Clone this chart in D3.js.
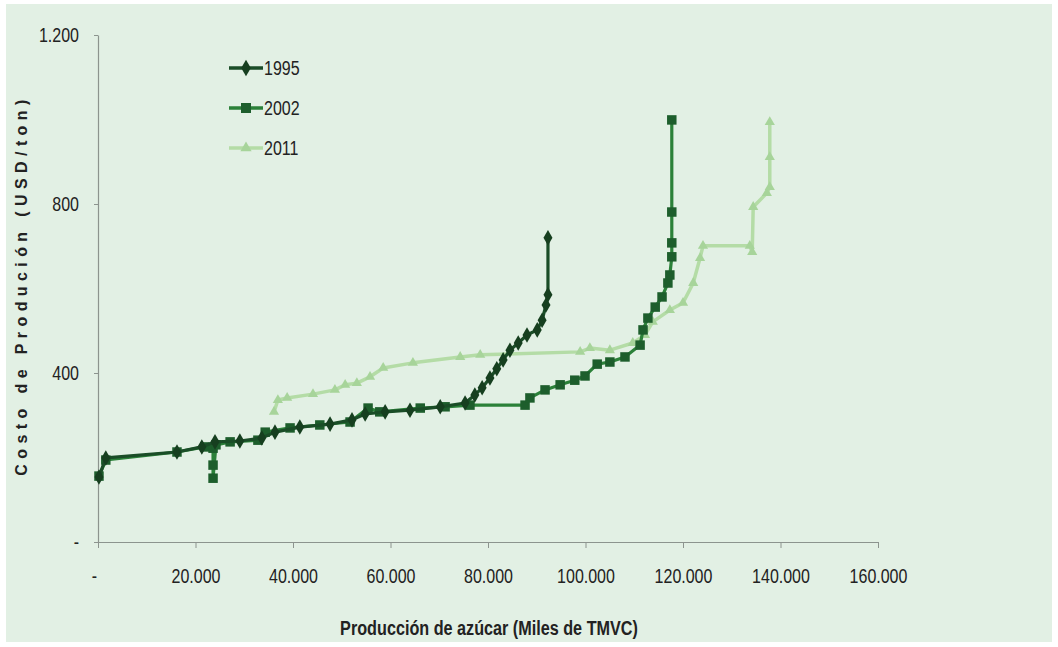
<!DOCTYPE html>
<html>
<head>
<meta charset="utf-8">
<script src="https://cdn.jsdelivr.net/npm/d3@7"></script>
<style>
  html, body { margin: 0; padding: 0; background: #ffffff; }
  svg { display: block; }
  text { font-family: "Liberation Sans Narrow", "Arial Narrow", "Liberation Sans", Arial, sans-serif; }
</style>
</head>
<body>
<svg id="chart" width="1058" height="647"></svg>
<script>
// Curva de oferta: producción acumulada (miles de TMVC) vs. costo de producción (USD/ton)
const xTicks = [0, 20000, 40000, 60000, 80000, 100000, 120000, 140000, 160000];
const yTicks = [0, 400, 800, 1200];
const seriesNames = ["1995", "2002", "2011"];

const prod1995 = [200, 1600, 16200, 21300, 24000, 29100, 33600, 36300, 41400, 47600, 52100, 54800, 58900, 64000, 70200, 75300, 77300, 78800, 80400, 81800, 83100, 84500, 86200, 88000, 90100, 91100, 91900, 92300, 92300];
const cost1995 = [154, 199, 213, 225, 237, 239, 246, 260, 272, 279, 289, 303, 308, 312, 320, 329, 348, 365, 388, 410, 431, 454, 471, 490, 502, 525, 561, 585, 720];

const prod2002 = [200, 1600, 16200, 21900, 23600, 23600, 23600, 24200, 27100, 32800, 34300, 39400, 45500, 51700, 55400, 57800, 66100, 71200, 76300, 87600, 88600, 91700, 94800, 97800, 99900, 102400, 105000, 108100, 111200, 111800, 112800, 114300, 115700, 116900, 117300, 117700, 117700, 117700, 117700];
const cost2002 = [156, 194, 213, 225, 222, 182, 151, 230, 237, 241, 260, 270, 277, 284, 317, 308, 317, 320, 324, 324, 341, 360, 372, 383, 393, 421, 426, 438, 466, 502, 530, 556, 580, 613, 632, 675, 708, 781, 999];

const prod2011 = [36100, 36900, 38800, 44100, 48600, 50700, 53100, 55800, 58500, 64600, 74300, 78400, 98900, 100900, 105000, 109700, 112200, 113800, 117300, 120000, 122100, 123500, 124100, 133700, 134200, 134400, 137200, 137800, 137800, 137800];
const cost2011 = [308, 336, 341, 350, 360, 372, 376, 391, 412, 424, 438, 443, 450, 459, 454, 471, 490, 521, 549, 566, 613, 672, 701, 701, 686, 793, 826, 840, 911, 994];

const lineColors = ["#1a4d27", "#2b8139", "#b4dca6"];
const markerColors = ["#163f1f", "#1d5e2c", "#a7d49a"];
const markerTypes = [d3.symbolDiamond, d3.symbolSquare, d3.symbolTriangle];
const markerSizes = [70, 90, 45];
const NARROW = 0.8; // compresión horizontal del texto condensado

const svg = d3.select("#chart");

// fondo
svg.append("rect").attr("x", 0).attr("y", 0).attr("width", 1058).attr("height", 647).attr("fill", "#ffffff");
svg.append("rect").attr("x", 6).attr("y", 4).attr("width", 1046).attr("height", 638).attr("fill", "#e2f0e4");

const x = d3.scaleLinear().domain([0, 160000]).range([98, 878]);
const y = d3.scaleLinear().domain([0, 1200]).range([542, 35]);

const fmtNum = d => d === 0 ? "-" : d3.format(",")(d).replace(/,/g, ".");

// texto condensado: escala horizontal alrededor del punto de anclaje
function condense(sel, s) {
  sel.each(function () {
    const t = d3.select(this);
    const tx = +t.attr("x") || 0, ty = +t.attr("y") || 0;
    t.attr("x", 0).attr("y", 0).attr("transform", `translate(${tx},${ty}) scale(${s},1)`);
  });
}

const xAxis = svg.append("g")
  .attr("transform", `translate(0,${y(0)})`)
  .call(d3.axisBottom(x).tickValues(xTicks).tickFormat(fmtNum).tickSize(6).tickPadding(21).tickSizeOuter(0));
const yAxis = svg.append("g")
  .attr("transform", `translate(${x(0)},0)`)
  .call(d3.axisLeft(y).tickValues(yTicks).tickFormat(fmtNum).tickSize(4).tickPadding(15).tickSizeOuter(0));

[xAxis, yAxis].forEach(g => {
  g.attr("font-family", null);
  g.select(".domain").attr("stroke", "#8c948e").attr("stroke-width", 1.2);
  g.selectAll(".tick line").attr("stroke", "#8c948e").attr("stroke-width", 1);
  g.selectAll(".tick text")
    .attr("font-size", 20)
    .attr("fill", "#222")
    .call(condense, NARROW);
});
xAxis.selectAll(".tick text").filter(d => d === 0).attr("transform", "translate(-4,27) scale(0.8,1)");

// series
const data = [
  prod1995.map((p, i) => ({ p, c: cost1995[i] })),
  prod2002.map((p, i) => ({ p, c: cost2002[i] })),
  prod2011.map((p, i) => ({ p, c: cost2011[i] }))
];
const line = d3.line().x(d => x(d.p)).y(d => y(d.c));
const drawOrder = [2, 1, 0];
drawOrder.forEach(k => {
  const g = svg.append("g");
  g.append("path")
    .datum(data[k])
    .attr("fill", "none")
    .attr("stroke", lineColors[k])
    .attr("stroke-width", k === 2 ? 3.5 : 3.2)
    .attr("stroke-linejoin", "round")
    .attr("d", line);
  g.selectAll("path.m")
    .data(data[k])
    .join("path")
    .attr("class", "m")
    .attr("transform", d => `translate(${x(d.p)},${y(d.c)})`)
    .attr("d", d3.symbol().type(markerTypes[k]).size(markerSizes[k]))
    .attr("fill", markerColors[k]);
});

// leyenda
const legend = svg.append("g");
seriesNames.forEach((name, k) => {
  const ly = 68 + k * 40;
  legend.append("line")
    .attr("x1", 229).attr("x2", 263).attr("y1", ly).attr("y2", ly)
    .attr("stroke", lineColors[k]).attr("stroke-width", 3.5);
  legend.append("path")
    .attr("transform", `translate(246,${ly})`)
    .attr("d", d3.symbol().type(markerTypes[k]).size(markerSizes[k] + 10))
    .attr("fill", markerColors[k]);
  legend.append("text")
    .attr("x", 264).attr("y", ly + 7)
    .attr("font-size", 20)
    .attr("fill", "#222")
    .text(name)
    .call(condense, NARROW);
});

// títulos de ejes
svg.append("text")
  .attr("x", 489).attr("y", 635)
  .attr("text-anchor", "middle")
  .attr("font-size", 20)
  .attr("font-weight", "bold")
  .attr("fill", "#222")
  .text("Producción de azúcar (Miles de TMVC)")
  .call(condense, 0.81);

svg.append("text")
  .attr("transform", "translate(27,285) rotate(-90)")
  .attr("text-anchor", "middle")
  .attr("font-family", "Liberation Sans, Arial, sans-serif")
  .attr("font-size", 16)
  .attr("font-weight", "bold")
  .attr("letter-spacing", 5.4)
  .attr("fill", "#222")
  .text("Costo de Produción (USD/ton)");
</script>
</body>
</html>
